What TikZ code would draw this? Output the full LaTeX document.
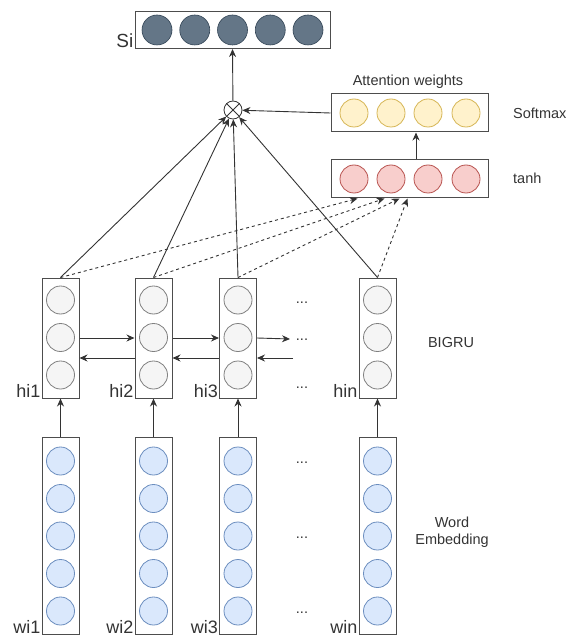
\documentclass[tikz,border=0pt]{standalone}
\usepackage{fontspec}
\setmainfont{Liberation Sans}
\usetikzlibrary{arrows.meta}

\definecolor{boxline}{HTML}{4D4D4D}
\definecolor{lineclr}{HTML}{333333}
\definecolor{txt}{HTML}{333333}
\definecolor{siFill}{HTML}{647687}
\definecolor{siLine}{HTML}{314354}
\definecolor{attFill}{HTML}{FFF2CC}
\definecolor{attLine}{HTML}{D6B656}
\definecolor{tanhFill}{HTML}{F8CECC}
\definecolor{tanhLine}{HTML}{B85450}
\definecolor{hFill}{HTML}{F5F5F5}
\definecolor{hLine}{HTML}{808080}
\definecolor{wFill}{HTML}{DAE8FC}
\definecolor{wLine}{HTML}{6C8EBF}

\begin{document}
\begin{tikzpicture}[x=1pt,y=-1pt,
   lbl/.style={font=\fontsize{14.5}{17}\selectfont, text=txt, inner sep=1pt},
   biglbl/.style={font=\fontsize{18}{21}\selectfont, text=txt, inner sep=1pt, anchor=south east},
   layer/.style={rectangle, draw=boxline, line width=1pt, fill=white, inner sep=0pt},
   siunit/.style={circle, fill=siFill, draw=siLine, line width=0.6pt, minimum size=30pt, inner sep=0pt},
   attunit/.style={circle, fill=attFill, draw=attLine, line width=0.8pt, minimum size=28pt, inner sep=0pt},
   tanhunit/.style={circle, fill=tanhFill, draw=tanhLine, line width=0.8pt, minimum size=28pt, inner sep=0pt},
   hunit/.style={circle, fill=hFill, draw=hLine, line width=0.8pt, minimum size=28pt, inner sep=0pt},
   wunit/.style={circle, fill=wFill, draw=wLine, line width=0.8pt, minimum size=28pt, inner sep=0pt},
   arr/.style={draw=lineclr, line width=0.9pt, -{Stealth[length=8pt,width=7pt]}},
   dasharr/.style={arr, dash pattern=on 3pt off 3pt}]
   \useasboundingbox (0,0) rectangle (574,636);

   % sentence vector
   \node[layer, minimum width=195pt, minimum height=37pt] (si) at (232.5,30) {};
   \node[siunit] (s1) at (157,30) {};
   \node[siunit] (s2) at (194.75,30) {};
   \node[siunit] (s3) at (232.5,30) {};
   \node[siunit] (s4) at (270.25,30) {};
   \node[siunit] (s5) at (308,30) {};
   \node[biglbl, font=\fontsize{19}{22}\selectfont] (silbl) at (si.south west) {Si};

   % attention part
   \node[layer, minimum width=157pt, minimum height=38pt] (att) at (409.5,113) {};
   \node[attunit] (a1) at (354,113) {};
   \node[attunit] (a2) at (391,113) {};
   \node[attunit] (a3) at (428,113) {};
   \node[attunit] (a4) at (466,113) {};
   \node[lbl] (attlbl) at (408,82) {Attention weights};
   \node[lbl, anchor=west] (smlbl) at (512,113) {Softmax};

   \node[layer, minimum width=157pt, minimum height=38pt] (tanh) at (409.5,179) {};
   \node[tanhunit] (t1) at (354,179) {};
   \node[tanhunit] (t2) at (391,179) {};
   \node[tanhunit] (t3) at (428,179) {};
   \node[tanhunit] (t4) at (466,179) {};
   \node[lbl, anchor=west] (tanhlbl) at (512,178) {tanh};

   \node[circle, draw=lineclr, line width=0.8pt, minimum size=18pt, inner sep=0pt] (ot) at (233,110) {};
   \draw[lineclr, line width=0.8pt] (ot.45) -- (ot.225) (ot.135) -- (ot.315);

   % BiGRU columns
   \node[layer, minimum width=37pt, minimum height=120pt] (h1) at (60.5,338) {};
   \node[hunit] (h11) at (60.5,300) {};
   \node[hunit] (h12) at (60.5,337.5) {};
   \node[hunit] (h13) at (60.5,375) {};
   \node[layer, minimum width=37pt, minimum height=120pt] (h2) at (153.5,338) {};
   \node[hunit] (h21) at (153.5,300) {};
   \node[hunit] (h22) at (153.5,337.5) {};
   \node[hunit] (h23) at (153.5,375) {};
   \node[layer, minimum width=37pt, minimum height=120pt] (h3) at (238,338) {};
   \node[hunit] (h31) at (238,300) {};
   \node[hunit] (h32) at (238,337.5) {};
   \node[hunit] (h33) at (238,375) {};
   \node[layer, minimum width=37pt, minimum height=120pt] (hn) at (377.5,338) {};
   \node[hunit] (hn1) at (377.5,300) {};
   \node[hunit] (hn2) at (377.5,337.5) {};
   \node[hunit] (hn3) at (377.5,375) {};
   \node[biglbl] (h1lbl) at (h1.south west) {hi1};
   \node[biglbl] (h2lbl) at (h2.south west) {hi2};
   \node[biglbl] (h3lbl) at (h3.south west) {hi3};
   \node[biglbl] (hnlbl) at (hn.south west) {hin};
   \node[lbl, anchor=base] (hdots1) at (302,303) {...};
   \node[lbl, anchor=base] (hdots2) at (302,340) {...};
   \node[lbl, anchor=base] (hdots3) at (302,388) {...};
   \node[lbl] (grulbl) at (451,343) {BIGRU};

   % word embeddings
   \node[layer, minimum width=37pt, minimum height=197pt] (w1) at (60.5,535.5) {};
   \node[wunit] (w11) at (60.5,461) {};
   \node[wunit] (w12) at (60.5,498.5) {};
   \node[wunit] (w13) at (60.5,536) {};
   \node[wunit] (w14) at (60.5,573.5) {};
   \node[wunit] (w15) at (60.5,611) {};
   \node[layer, minimum width=37pt, minimum height=197pt] (w2) at (153.5,535.5) {};
   \node[wunit] (w21) at (153.5,461) {};
   \node[wunit] (w22) at (153.5,498.5) {};
   \node[wunit] (w23) at (153.5,536) {};
   \node[wunit] (w24) at (153.5,573.5) {};
   \node[wunit] (w25) at (153.5,611) {};
   \node[layer, minimum width=37pt, minimum height=197pt] (w3) at (238,535.5) {};
   \node[wunit] (w31) at (238,461) {};
   \node[wunit] (w32) at (238,498.5) {};
   \node[wunit] (w33) at (238,536) {};
   \node[wunit] (w34) at (238,573.5) {};
   \node[wunit] (w35) at (238,611) {};
   \node[layer, minimum width=37pt, minimum height=197pt] (wn) at (377.5,535.5) {};
   \node[wunit] (wn1) at (377.5,461) {};
   \node[wunit] (wn2) at (377.5,498.5) {};
   \node[wunit] (wn3) at (377.5,536) {};
   \node[wunit] (wn4) at (377.5,573.5) {};
   \node[wunit] (wn5) at (377.5,611) {};
   \node[biglbl] (w1lbl) at (w1.south west) {wi1};
   \node[biglbl] (w2lbl) at (w2.south west) {wi2};
   \node[biglbl] (w3lbl) at (w3.south west) {wi3};
   \node[biglbl] (wnlbl) at (wn.south west) {win};
   \node[lbl, anchor=base] (wdots1) at (302,463) {...};
   \node[lbl, anchor=base] (wdots2) at (302,538) {...};
   \node[lbl, anchor=base] (wdots3) at (302,613) {...};
   \node[lbl, align=center] (emblbl) at (452,532) {Word\\Embedding};

   % embeddings feed the BiGRU
   \draw[arr] (w1) -- (h1);
   \draw[arr] (w2) -- (h2);
   \draw[arr] (w3) -- (h3);
   \draw[arr] (wn) -- (hn);

   % forward and backward passes
   \coordinate (fwend) at (290,339);
   \coordinate (bwstart) at (293,358);
   \draw[arr] (h1.east) -- (h2.west);
   \draw[arr] (h2.east) -- (h3.west);
   \draw[arr] (h3.east) -- (fwend);
   \draw[arr] ([yshift=-20pt]h2.west) -- ([yshift=-20pt]h1.east);
   \draw[arr] ([yshift=-20pt]h3.west) -- ([yshift=-20pt]h2.east);
   \draw[arr] (bwstart) -- ([yshift=-20pt]h3.east);

   % hidden states to the weighted sum
   \draw[arr] (h1.north) -- (ot);
   \draw[arr] (h2.north) -- (ot);
   \draw[arr] (h3.north) -- (ot);
   \draw[arr] (hn.north) -- (ot);

   % hidden states to the score layer
   \draw[dasharr] (h1.north) -- ([xshift=27pt]tanh.south west);
   \draw[dasharr] (h2.north) -- ([xshift=54pt]tanh.south west);
   \draw[dasharr] (h3.north) -- ([xshift=69pt]tanh.south west);
   \draw[dasharr] (hn.north) -- ([xshift=77pt]tanh.south west);

   \draw[arr] ([xshift=6.5pt]tanh.north) -- ([xshift=6.5pt]att.south);
   \draw[arr] (att.west) -- (ot);
   \draw[arr] (ot) -- (si.south);
\end{tikzpicture}
\end{document}
